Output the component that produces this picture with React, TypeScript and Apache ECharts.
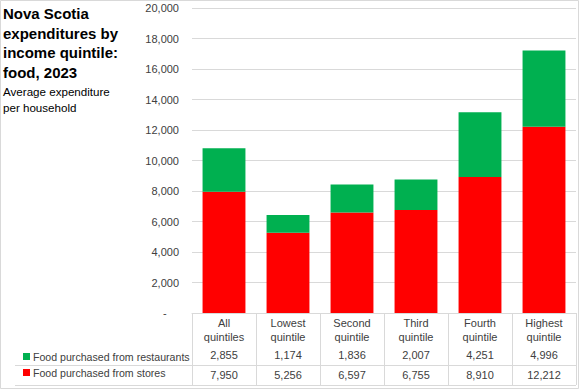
import React, { useEffect, useRef } from "react";
import * as echarts from "echarts";

const categories = ["All quintiles", "Lowest quintile", "Second quintile", "Third quintile", "Fourth quintile", "Highest quintile"];
const restaurants = [2855, 1174, 1836, 2007, 4251, 4996];
const stores = [7950, 5256, 6597, 6755, 8910, 12212];
const seriesNames = ["Food purchased from restaurants", "Food purchased from stores"];
const titleLines = ["Nova Scotia", "expenditures by", "income quintile:", "food, 2023"];
const subtitleLines = ["Average expenditure", "per household"];

const FONT = "Liberation Sans, Arial, sans-serif";
const GREEN = "#00B050";
const RED = "#FF0000";
const GRID = "#D9D9D9";
const TXT = "#404040";

const fmt = (v: number) => v.toLocaleString("en-US");

export default function App() {
  const ref = useRef<HTMLDivElement>(null);
  useEffect(() => {
    if (!ref.current) return;
    const chart = echarts.init(ref.current, null, { renderer: "svg" });
    const gLeft = 192, gTop = 8, gW = 384, gH = 305;
    const catW = gW / categories.length;
    const tableBottom = 385;
    const graphics: any[] = [
      { type: "rect", shape: { x: 0.5, y: 0.5, width: 578, height: 388 }, style: { fill: "none", stroke: GRID, lineWidth: 1 }, silent: true },
      {
        type: "text", left: 3, top: 4,
        style: { text: titleLines.join("\n"), font: `bold 15px ${FONT}`, fill: "#000", lineHeight: 19.5 },
      },
      {
        type: "text", left: 3, top: 83,
        style: { text: subtitleLines.join("\n"), font: `11.6px ${FONT}`, fill: "#000", lineHeight: 16 },
      },
      { type: "line", shape: { x1: 15, y1: 365.5, x2: gLeft + gW, y2: 365.5 }, style: { stroke: GRID, lineWidth: 1 } },
      { type: "line", shape: { x1: 15, y1: tableBottom + 0.5, x2: gLeft + gW, y2: tableBottom + 0.5 }, style: { stroke: GRID, lineWidth: 1 } },
    ];
    for (let i = 0; i <= categories.length; i++) {
      const x = Math.round(gLeft + i * catW) + 0.5;
      graphics.push({ type: "line", shape: { x1: x, y1: gTop + gH, x2: x, y2: tableBottom }, style: { stroke: GRID, lineWidth: 1 } });
    }
    chart.setOption({
      animation: false,
      textStyle: { fontFamily: FONT },
      grid: { left: gLeft, top: gTop, width: gW, height: gH, containLabel: false },
      legend: {
        data: seriesNames,
        orient: "vertical",
        left: 18,
        top: 346,
        icon: "rect",
        itemWidth: 7,
        itemHeight: 7,
        itemGap: 5,
        selectedMode: false,
        textStyle: { fontSize: 10.6, color: TXT, fontFamily: FONT, padding: [0, 0, 0, -2] },
      },
      xAxis: {
        type: "category",
        data: categories,
        axisLine: { show: true, lineStyle: { color: GRID } },
        axisTick: { show: false },
        axisLabel: {
          interval: 0,
          margin: 3,
          formatter: (v: string, idx: number) => {
            const parts = v.split(" ");
            return `{c|${parts[0]}}\n{c|${parts[1]}}\n{r|${fmt(restaurants[idx])}}\n{s|${fmt(stores[idx])}}`;
          },
          rich: {
            c: { fontSize: 11, color: TXT, lineHeight: 14, fontFamily: FONT },
            r: { fontSize: 11, color: TXT, lineHeight: 22, fontFamily: FONT },
            s: { fontSize: 11, color: TXT, lineHeight: 18, fontFamily: FONT },
          },
        },
      },
      yAxis: {
        type: "value",
        min: 0,
        max: 20000,
        interval: 2000,
        axisLine: { show: false },
        axisTick: { show: false },
        splitLine: { lineStyle: { color: GRID } },
        axisLabel: {
          margin: 13,
          fontSize: 11,
          color: TXT,
          fontFamily: FONT,
          formatter: (v: number) => (v === 0 ? "-    " : fmt(v)),
        },
      },
      series: [
        { name: seriesNames[1], type: "bar", stack: "a", data: stores, itemStyle: { color: RED }, barCategoryGap: "33%" },
        { name: seriesNames[0], type: "bar", stack: "a", data: restaurants, itemStyle: { color: GREEN }, barCategoryGap: "33%" },
      ],
      graphic: graphics,
    });
    return () => chart.dispose();
  }, []);
  return <div ref={ref} style={{ position: "fixed", left: 0, top: 0, width: 580, height: 390, background: "#fff" }} />;
}
